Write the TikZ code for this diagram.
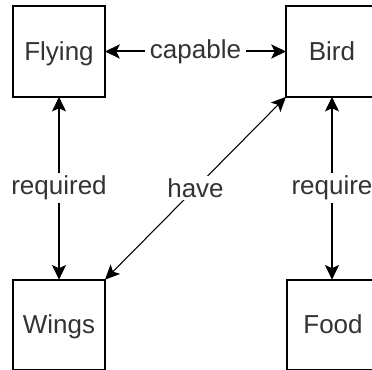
\documentclass[tikz,border=0pt]{standalone}
\usepackage{fontspec}
\setmainfont{Liberation Sans}
\usetikzlibrary{arrows.meta}
\definecolor{inkgray}{HTML}{333333}
\begin{document}
\begin{tikzpicture}[x=0.75pt,y=-0.75pt,
  concept/.style={draw=black,line width=1.5pt,fill=white,rectangle,
    minimum width=69pt,minimum height=68pt,inner sep=0pt,outer sep=0pt,
    text=inkgray,text height=14pt,text depth=0.5pt,
    font=\fontsize{19.5}{22}\selectfont},
  link/.style={line width=1.5pt,{Stealth[length=11pt,width=10.5pt,inset=2.5pt]}-{Stealth[length=11pt,width=10.5pt,inset=2.5pt]}},
  thinlink/.style={line width=0.8pt,{Stealth[length=11pt,width=10pt,inset=2.5pt]}-{Stealth[length=11pt,width=10pt,inset=2.5pt]}},
  tag/.style={fill=white,text=inkgray,inner xsep=4pt,inner ysep=2pt,font=\fontsize{19.5}{22}\selectfont}]
  \useasboundingbox (0,0) rectangle (372,370);
  \clip (0,0) rectangle (372,370);
  % concepts
  \node[concept] (flying) at (59,51.5) {Flying};
  \node[concept] (bird)   at (332,51.5) {Bird};
  \node[concept] (wings)  at (59,325) {Wings};
  \node[concept] (food)   at (333,325) {Food};
  % relations
  \draw[link] (flying.east) -- node[tag] {capable} (bird.west);
  \draw[link] (flying.south) -- node[tag] {required} (wings.north);
  \draw[link] (bird.south) -- node[tag] {require} (food.north -| bird.south);
  \draw[thinlink] (bird.south west) -- node[tag] {have} (wings.north east);
\end{tikzpicture}
\end{document}
